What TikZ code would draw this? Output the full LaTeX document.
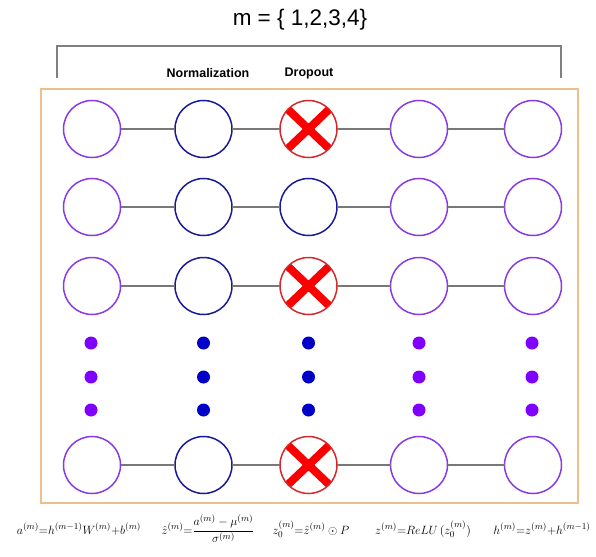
\documentclass[tikz,border=0pt]{standalone}
\usepackage{fontspec}
\newfontfamily\labfont{Liberation Sans}
\begin{document}
\begin{tikzpicture}[x=1pt,y=-1pt,
  every node/.style={inner sep=0pt,outer sep=0pt},
  neuron/.style={circle,minimum size=57pt,line width=1.5pt,draw},
  pneuron/.style={neuron,draw={rgb,255:red,138;green,58;blue,226}},
  bneuron/.style={neuron,draw={rgb,255:red,26;green,26;blue,150}},
  dneuron/.style={neuron,draw={rgb,255:red,214;green,40;blue,40},
    path picture={\draw[line width=8pt,draw={rgb,255:red,250;green,0;blue,0}]
      ([shift={(-21pt,-20pt)}]path picture bounding box.center) -- ([shift={(21pt,20pt)}]path picture bounding box.center)
      ([shift={(-21pt,20pt)}]path picture bounding box.center) -- ([shift={(21pt,-20pt)}]path picture bounding box.center);}},
  link/.style={draw={rgb,255:red,120;green,120;blue,120},line width=1.3pt},
  pdot/.style={circle,minimum size=13pt,fill={rgb,255:red,128;green,0;blue,255}},
  bdot/.style={circle,minimum size=13pt,fill={rgb,255:red,0;green,0;blue,200}},
  formula/.style={anchor=base,font=\fontsize{12.5}{14}\selectfont},
  headlab/.style={font=\labfont\bfseries\fontsize{12.5}{14}\selectfont}
]
\useasboundingbox (0,0) rectangle (596,556);
% title and bracket
\node[font=\labfont\fontsize{22.5}{26}\selectfont] (title) at (300,20) {m = \{ 1,2,3,4\}};
\coordinate (bl) at (57,78);
\coordinate (tl) at (57,46);
\coordinate (tr) at (561,46);
\coordinate (br) at (561,78);
\draw[draw={rgb,255:red,128;green,128;blue,128},line width=1.3pt] (bl) -- (tl) -- (tr) -- (br);
\node[headlab] (norm) at (208,73) {Normalization};
\node[headlab] (drop) at (309,73) {Dropout};
% frame
\draw[draw={rgb,255:red,238;green,190;blue,140},line width=1.8pt] (41,89) rectangle (578,503);
% rows of neurons
\foreach \r/\y/\st in {1/129/dneuron,2/207/bneuron,3/286/dneuron,4/465/dneuron}{
  \node[pneuron] (n\r-1) at (92,\y) {};
  \node[bneuron] (n\r-2) at (203.5,\y) {};
  \node[\st] (n\r-3) at (308.5,\y) {};
  \node[pneuron] (n\r-4) at (419,\y) {};
  \node[pneuron] (n\r-5) at (533,\y) {};
  \draw[link] (n\r-1) -- (n\r-2);
  \draw[link] (n\r-2) -- (n\r-3);
  \draw[link] (n\r-3) -- (n\r-4);
  \draw[link] (n\r-4) -- (n\r-5);
}
% dots
\foreach \k/\y in {1/343,2/377,3/410}{
  \node[pdot] (d\k-1) at (91,\y) {};
  \node[bdot] (d\k-2) at (203.5,\y) {};
  \node[bdot] (d\k-3) at (308.5,\y) {};
  \node[pdot] (d\k-4) at (419,\y) {};
  \node[pdot] (d\k-5) at (532,\y) {};
}
% formulas
\node[formula] (f1) at (79,534) {$a^{(m)}{=}h^{(m-1)}W^{(m)}{+}b^{(m)}$};
\node[formula] (f2) at (208,534) {$\hat{z}^{(m)}{=}{\displaystyle\frac{a^{(m)}-\mu^{(m)}}{\sigma^{(m)}}}$};
\node[formula] (f3) at (311,534) {$z_0^{(m)}{=}\hat{z}^{(m)}\odot P$};
\node[formula] (f4) at (423,534) {$z^{(m)}{=}ReLU\,(z_0^{(m)})$};
\node[formula] (f5) at (542,534) {$h^{(m)}{=}z^{(m)}{+}h^{(m-1)}$};
\end{tikzpicture}
\end{document}
